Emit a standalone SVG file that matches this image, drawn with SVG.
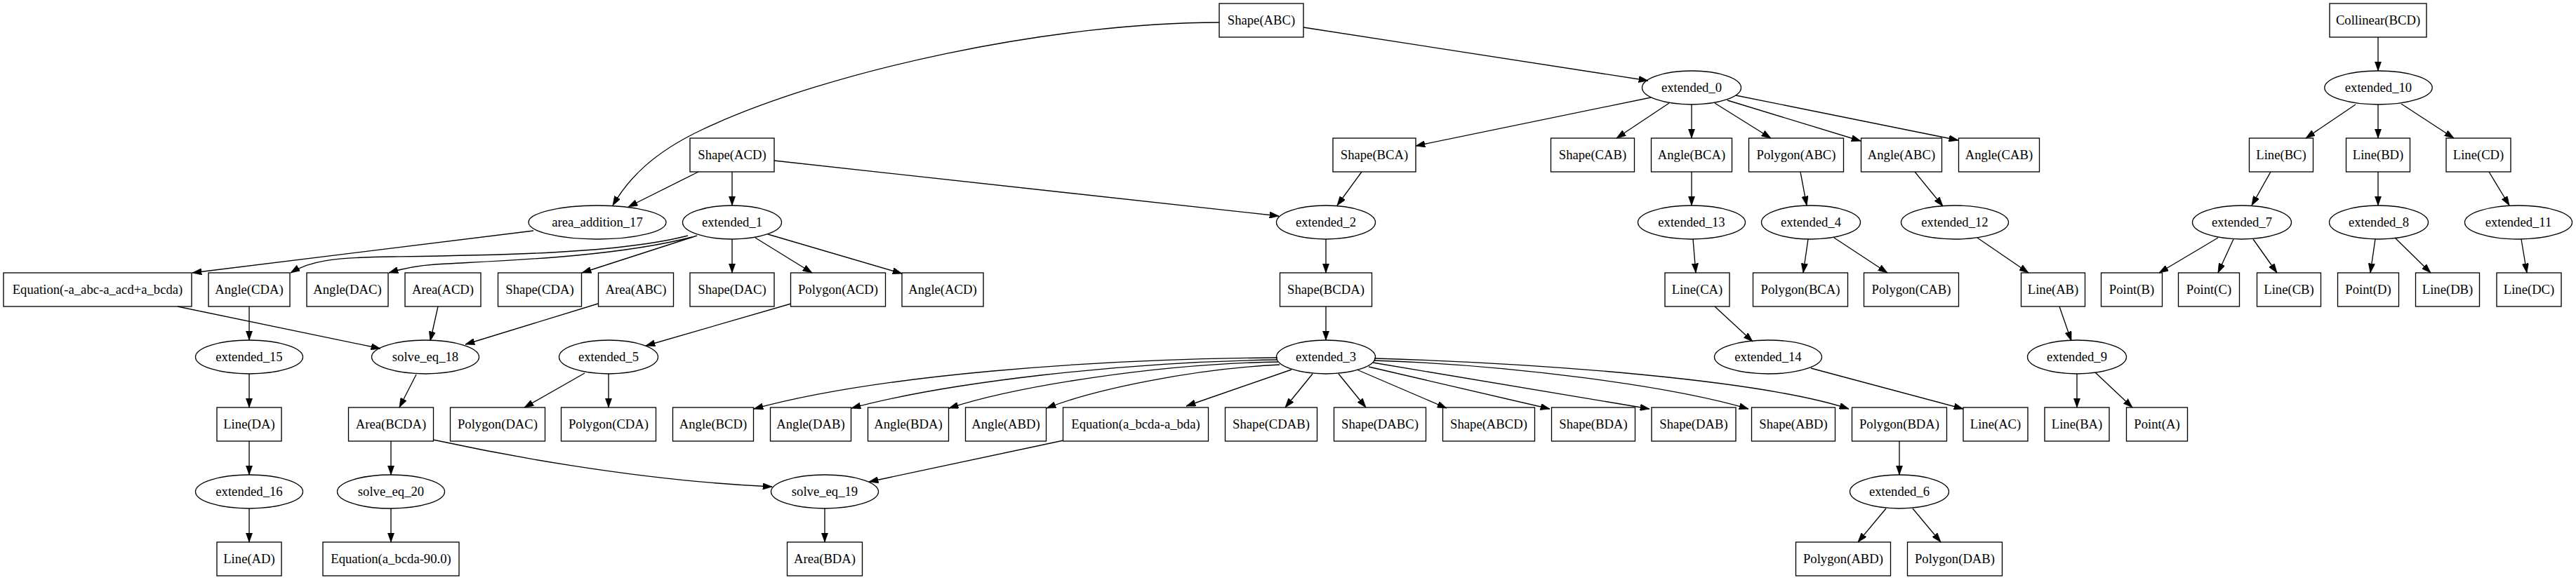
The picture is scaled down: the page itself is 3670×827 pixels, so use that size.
<svg xmlns="http://www.w3.org/2000/svg" width="3670" height="827" viewBox="0 0 3670 827">
<style>
.n rect,.n ellipse{fill:none;stroke:#000;stroke-width:1.33}
.n text{font-family:"Liberation Serif","Times New Roman",serif;font-size:18.67px;text-anchor:middle;fill:#000}
.e path{fill:none;stroke:#000;stroke-width:1.33;marker-end:url(#ah)}
</style>
<defs>
<marker id="ah" viewBox="0 0 10 7" refX="10" refY="3.5" markerWidth="13.33" markerHeight="9.33" markerUnits="userSpaceOnUse" orient="auto"><path d="M0,0 L10,3.5 L0,7 z" fill="#000" stroke="#000" stroke-width="0.5"/></marker>
</defs>
<rect x="0" y="0" width="3670" height="827" fill="#fff"/>
<g id="edges" class="e">
<path d="M1737,32 C1500,32 1180,100 1000,185 C930,218 895,255 873,293"/>
<path d="M1857,39 L2348,115"/>
<path d="M995,245 L895,295"/>
<path d="M1043,245 L1043,293"/>
<path d="M1103,229 L1822,308"/>
<path d="M760,329 L274,389"/>
<path d="M980,336 C880,362 700,364 560,366 C470,367 440,373 414,389"/>
<path d="M986,338 C870,368 700,372 620,377 C590,379 570,384 554,389"/>
<path d="M993,336 L829,389"/>
<path d="M1043,341 L1043,389"/>
<path d="M1076,339 L1157,389"/>
<path d="M1094,334 L1285,390"/>
<path d="M1940,245 L1905,293"/>
<path d="M1889,341 L1889,389"/>
<path d="M2352,139 L2017,208"/>
<path d="M2378,147 L2303,197"/>
<path d="M2410,149 L2410,197"/>
<path d="M2443,147 L2523,197"/>
<path d="M2461,143 L2651,201"/>
<path d="M2473,136 L2790,200"/>
<path d="M2410,245 L2410,293"/>
<path d="M2412,341 L2416,389"/>
<path d="M2443,437 L2497,487"/>
<path d="M2580,525 L2797,583"/>
<path d="M2565,245 L2574,293"/>
<path d="M2576,341 L2569,389"/>
<path d="M2613,339 L2689,389"/>
<path d="M2728,245 L2768,294"/>
<path d="M2817,339 L2890,389"/>
<path d="M2934,437 L2951,486"/>
<path d="M2959,533 L2959,581"/>
<path d="M2985,531 L3038,581"/>
<path d="M3388,53 L3388,101"/>
<path d="M3356,149 L3285,197"/>
<path d="M3388,149 L3388,197"/>
<path d="M3421,148 L3496,197"/>
<path d="M3235,245 L3208,293"/>
<path d="M3388,245 L3388,293"/>
<path d="M3546,245 L3575,293"/>
<path d="M3160,339 L3076,389"/>
<path d="M3182,341 L3160,389"/>
<path d="M3210,341 L3244,389"/>
<path d="M3384,341 L3377,389"/>
<path d="M3412,339 L3463,389"/>
<path d="M3592,341 L3600,389"/>
<path d="M355,437 L355,485"/>
<path d="M355,533 L355,581"/>
<path d="M355,629 L355,677"/>
<path d="M355,725 L355,773"/>
<path d="M253,437 L542,497"/>
<path d="M624,437 L613,486"/>
<path d="M852,433 L663,491"/>
<path d="M593,534 L569,581"/>
<path d="M557,629 L557,677"/>
<path d="M557,725 L557,773"/>
<path d="M617,627 C700,645 900,685 1100,694"/>
<path d="M1515,628 L1238,687"/>
<path d="M1175,725 L1175,773"/>
<path d="M1127,433 L920,493"/>
<path d="M833,532 L747,581"/>
<path d="M867,533 L867,581"/>
<path d="M1889,437 L1889,485"/>
<path d="M1820,510 C1550,512 1250,535 1074,583"/>
<path d="M1820,513 C1600,516 1350,545 1213,582"/>
<path d="M1821,516 C1650,519 1450,550 1352,582"/>
<path d="M1823,520 C1700,526 1560,555 1491,582"/>
<path d="M1840,527 L1690,579"/>
<path d="M1870,533 L1831,581"/>
<path d="M1907,533 L1946,581"/>
<path d="M1933,527 L2061,582"/>
<path d="M1950,523 L2208,583"/>
<path d="M1956,517 L2350,583"/>
<path d="M1957,514 C2150,520 2380,550 2491,583"/>
<path d="M1958,511 C2200,518 2510,542 2634,583"/>
<path d="M2706,629 L2706,677"/>
<path d="M2687,725 L2647,773"/>
<path d="M2725,725 L2765,773"/>
</g>
<g id="n_ShapeABC" class="n"><rect x="1737" y="5" width="120" height="48"/><text x="1797" y="35">Shape(ABC)</text></g>
<g id="n_CollinearBCD" class="n"><rect x="3319" y="5" width="138" height="48"/><text x="3388" y="35">Collinear(BCD)</text></g>
<g id="n_extended_0" class="n"><ellipse cx="2410" cy="125" rx="70.5" ry="24"/><text x="2410" y="131">extended_0</text></g>
<g id="n_extended_10" class="n"><ellipse cx="3388.5" cy="125" rx="76.7" ry="24"/><text x="3388.5" y="131">extended_10</text></g>
<g id="n_ShapeACD" class="n"><rect x="983" y="197" width="120" height="48"/><text x="1043" y="227">Shape(ACD)</text></g>
<g id="n_ShapeBCA" class="n"><rect x="1899" y="197" width="118" height="48"/><text x="1958" y="227">Shape(BCA)</text></g>
<g id="n_ShapeCAB" class="n"><rect x="2209.5" y="197" width="119" height="48"/><text x="2269" y="227">Shape(CAB)</text></g>
<g id="n_AngleBCA" class="n"><rect x="2352.5" y="197" width="115" height="48"/><text x="2410" y="227">Angle(BCA)</text></g>
<g id="n_PolygonABC" class="n"><rect x="2491.5" y="197" width="135" height="48"/><text x="2559" y="227">Polygon(ABC)</text></g>
<g id="n_AngleABC" class="n"><rect x="2651.5" y="197" width="115" height="48"/><text x="2709" y="227">Angle(ABC)</text></g>
<g id="n_AngleCAB" class="n"><rect x="2790.5" y="197" width="115" height="48"/><text x="2848" y="227">Angle(CAB)</text></g>
<g id="n_LineBC" class="n"><rect x="3204.5" y="197" width="91" height="48"/><text x="3250" y="227">Line(BC)</text></g>
<g id="n_LineBD" class="n"><rect x="3342.5" y="197" width="91" height="48"/><text x="3388" y="227">Line(BD)</text></g>
<g id="n_LineCD" class="n"><rect x="3485" y="197" width="92" height="48"/><text x="3531" y="227">Line(CD)</text></g>
<g id="n_area_addition_17" class="n"><ellipse cx="851" cy="317" rx="98" ry="24"/><text x="851" y="323">area_addition_17</text></g>
<g id="n_extended_1" class="n"><ellipse cx="1043" cy="317" rx="70.5" ry="24"/><text x="1043" y="323">extended_1</text></g>
<g id="n_extended_2" class="n"><ellipse cx="1889" cy="317" rx="70.5" ry="24"/><text x="1889" y="323">extended_2</text></g>
<g id="n_extended_13" class="n"><ellipse cx="2410" cy="317" rx="76.5" ry="24"/><text x="2410" y="323">extended_13</text></g>
<g id="n_extended_4" class="n"><ellipse cx="2580" cy="317" rx="70.5" ry="24"/><text x="2580" y="323">extended_4</text></g>
<g id="n_extended_12" class="n"><ellipse cx="2785" cy="317" rx="76.5" ry="24"/><text x="2785" y="323">extended_12</text></g>
<g id="n_extended_7" class="n"><ellipse cx="3194" cy="317" rx="70.5" ry="24"/><text x="3194" y="323">extended_7</text></g>
<g id="n_extended_8" class="n"><ellipse cx="3389" cy="317" rx="70.5" ry="24"/><text x="3389" y="323">extended_8</text></g>
<g id="n_extended_11" class="n"><ellipse cx="3588" cy="317" rx="76.5" ry="24"/><text x="3588" y="323">extended_11</text></g>
<g id="n_EqA" class="n"><rect x="5" y="389" width="268" height="48"/><text x="139" y="419">Equation(-a_abc-a_acd+a_bcda)</text></g>
<g id="n_AngleCDA" class="n"><rect x="297" y="389" width="116" height="48"/><text x="355" y="419">Angle(CDA)</text></g>
<g id="n_AngleDAC" class="n"><rect x="437" y="389" width="116" height="48"/><text x="495" y="419">Angle(DAC)</text></g>
<g id="n_AreaACD" class="n"><rect x="577" y="389" width="108" height="48"/><text x="631" y="419">Area(ACD)</text></g>
<g id="n_ShapeCDA" class="n"><rect x="709.5" y="389" width="119" height="48"/><text x="769" y="419">Shape(CDA)</text></g>
<g id="n_AreaABC" class="n"><rect x="852.5" y="389" width="107" height="48"/><text x="906" y="419">Area(ABC)</text></g>
<g id="n_ShapeDAC" class="n"><rect x="983" y="389" width="120" height="48"/><text x="1043" y="419">Shape(DAC)</text></g>
<g id="n_PolygonACD" class="n"><rect x="1126.5" y="389" width="135" height="48"/><text x="1194" y="419">Polygon(ACD)</text></g>
<g id="n_AngleACD" class="n"><rect x="1285" y="389" width="116" height="48"/><text x="1343" y="419">Angle(ACD)</text></g>
<g id="n_ShapeBCDA" class="n"><rect x="1823.5" y="389" width="131" height="48"/><text x="1889" y="419">Shape(BCDA)</text></g>
<g id="n_LineCA" class="n"><rect x="2372" y="389" width="92" height="48"/><text x="2418" y="419">Line(CA)</text></g>
<g id="n_PolygonBCA" class="n"><rect x="2497.5" y="389" width="135" height="48"/><text x="2565" y="419">Polygon(BCA)</text></g>
<g id="n_PolygonCAB" class="n"><rect x="2655.5" y="389" width="135" height="48"/><text x="2723" y="419">Polygon(CAB)</text></g>
<g id="n_LineAB" class="n"><rect x="2879.5" y="389" width="91" height="48"/><text x="2925" y="419">Line(AB)</text></g>
<g id="n_PointB" class="n"><rect x="2993.5" y="389" width="87" height="48"/><text x="3037" y="419">Point(B)</text></g>
<g id="n_PointC" class="n"><rect x="3103.5" y="389" width="87" height="48"/><text x="3147" y="419">Point(C)</text></g>
<g id="n_LineCB" class="n"><rect x="3215.5" y="389" width="91" height="48"/><text x="3261" y="419">Line(CB)</text></g>
<g id="n_PointD" class="n"><rect x="3330.5" y="389" width="87" height="48"/><text x="3374" y="419">Point(D)</text></g>
<g id="n_LineDB" class="n"><rect x="3441.5" y="389" width="91" height="48"/><text x="3487" y="419">Line(DB)</text></g>
<g id="n_LineDC" class="n"><rect x="3557" y="389" width="92" height="48"/><text x="3603" y="419">Line(DC)</text></g>
<g id="n_extended_15" class="n"><ellipse cx="355" cy="509" rx="76.5" ry="24"/><text x="355" y="515">extended_15</text></g>
<g id="n_solve_eq_18" class="n"><ellipse cx="606" cy="509" rx="76.5" ry="24"/><text x="606" y="515">solve_eq_18</text></g>
<g id="n_extended_5" class="n"><ellipse cx="867" cy="509" rx="70.5" ry="24"/><text x="867" y="515">extended_5</text></g>
<g id="n_extended_3" class="n"><ellipse cx="1889" cy="509" rx="70.5" ry="24"/><text x="1889" y="515">extended_3</text></g>
<g id="n_extended_14" class="n"><ellipse cx="2519" cy="509" rx="76.5" ry="24"/><text x="2519" y="515">extended_14</text></g>
<g id="n_extended_9" class="n"><ellipse cx="2959" cy="509" rx="70.5" ry="24"/><text x="2959" y="515">extended_9</text></g>
<g id="n_LineDA" class="n"><rect x="309" y="581" width="92" height="48"/><text x="355" y="611">Line(DA)</text></g>
<g id="n_AreaBCDA" class="n"><rect x="496.5" y="581" width="121" height="48"/><text x="557" y="611">Area(BCDA)</text></g>
<g id="n_PolygonDAC" class="n"><rect x="641.5" y="581" width="135" height="48"/><text x="709" y="611">Polygon(DAC)</text></g>
<g id="n_PolygonCDA" class="n"><rect x="799.5" y="581" width="135" height="48"/><text x="867" y="611">Polygon(CDA)</text></g>
<g id="n_AngleBCD" class="n"><rect x="958.5" y="581" width="115" height="48"/><text x="1016" y="611">Angle(BCD)</text></g>
<g id="n_AngleDAB" class="n"><rect x="1097.5" y="581" width="115" height="48"/><text x="1155" y="611">Angle(DAB)</text></g>
<g id="n_AngleBDA" class="n"><rect x="1236.5" y="581" width="115" height="48"/><text x="1294" y="611">Angle(BDA)</text></g>
<g id="n_AngleABD" class="n"><rect x="1375.5" y="581" width="115" height="48"/><text x="1433" y="611">Angle(ABD)</text></g>
<g id="n_EqBDA" class="n"><rect x="1514.5" y="581" width="207" height="48"/><text x="1618" y="611">Equation(a_bcda-a_bda)</text></g>
<g id="n_ShapeCDAB" class="n"><rect x="1745.5" y="581" width="131" height="48"/><text x="1811" y="611">Shape(CDAB)</text></g>
<g id="n_ShapeDABC" class="n"><rect x="1900.5" y="581" width="131" height="48"/><text x="1966" y="611">Shape(DABC)</text></g>
<g id="n_ShapeABCD" class="n"><rect x="2055.5" y="581" width="131" height="48"/><text x="2121" y="611">Shape(ABCD)</text></g>
<g id="n_ShapeBDA" class="n"><rect x="2210.5" y="581" width="119" height="48"/><text x="2270" y="611">Shape(BDA)</text></g>
<g id="n_ShapeDAB" class="n"><rect x="2353" y="581" width="120" height="48"/><text x="2413" y="611">Shape(DAB)</text></g>
<g id="n_ShapeABD" class="n"><rect x="2495.5" y="581" width="119" height="48"/><text x="2555" y="611">Shape(ABD)</text></g>
<g id="n_PolygonBDA" class="n"><rect x="2638.5" y="581" width="135" height="48"/><text x="2706" y="611">Polygon(BDA)</text></g>
<g id="n_LineAC" class="n"><rect x="2797" y="581" width="92" height="48"/><text x="2843" y="611">Line(AC)</text></g>
<g id="n_LineBA" class="n"><rect x="2913" y="581" width="92" height="48"/><text x="2959" y="611">Line(BA)</text></g>
<g id="n_PointA" class="n"><rect x="3029.5" y="581" width="87" height="48"/><text x="3073" y="611">Point(A)</text></g>
<g id="n_extended_16" class="n"><ellipse cx="355" cy="701" rx="76.5" ry="24"/><text x="355" y="707">extended_16</text></g>
<g id="n_solve_eq_20" class="n"><ellipse cx="557" cy="701" rx="76.5" ry="24"/><text x="557" y="707">solve_eq_20</text></g>
<g id="n_solve_eq_19" class="n"><ellipse cx="1175" cy="701" rx="76.5" ry="24"/><text x="1175" y="707">solve_eq_19</text></g>
<g id="n_extended_6" class="n"><ellipse cx="2706" cy="701" rx="70.5" ry="24"/><text x="2706" y="707">extended_6</text></g>
<g id="n_LineAD" class="n"><rect x="309" y="773" width="92" height="48"/><text x="355" y="803">Line(AD)</text></g>
<g id="n_EqBCDA90" class="n"><rect x="460" y="773" width="194" height="48"/><text x="557" y="803">Equation(a_bcda-90.0)</text></g>
<g id="n_AreaBDA" class="n"><rect x="1121.5" y="773" width="107" height="48"/><text x="1175" y="803">Area(BDA)</text></g>
<g id="n_PolygonABD" class="n"><rect x="2558.5" y="773" width="135" height="48"/><text x="2626" y="803">Polygon(ABD)</text></g>
<g id="n_PolygonDAB" class="n"><rect x="2717.5" y="773" width="135" height="48"/><text x="2785" y="803">Polygon(DAB)</text></g>
</svg>
